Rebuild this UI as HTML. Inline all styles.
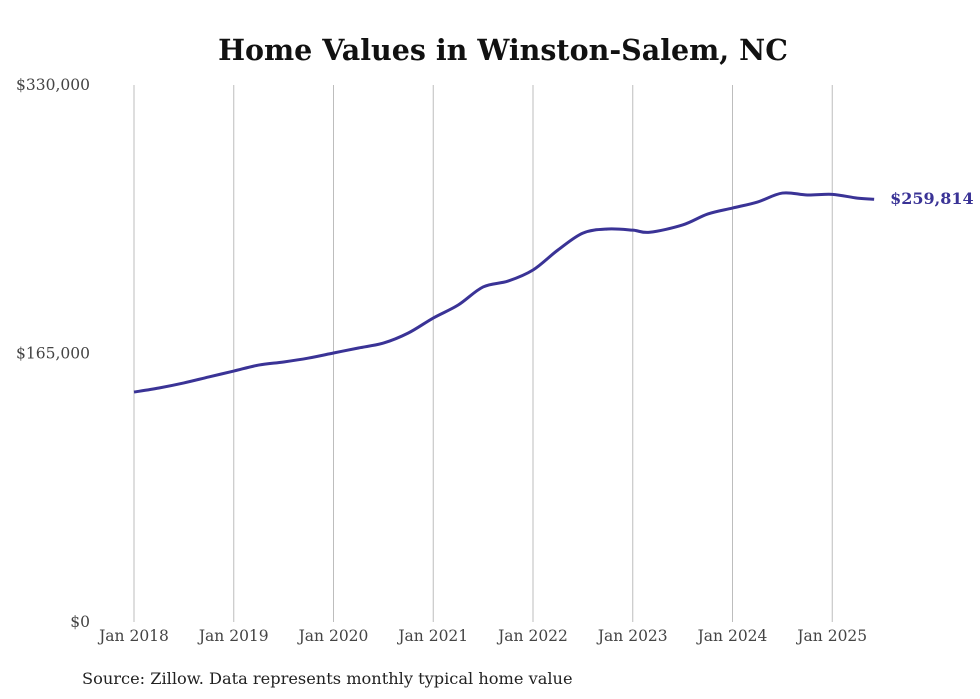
<!DOCTYPE html>
<html><head><meta charset="utf-8"><style>
body{margin:0;background:#fff;}
svg{display:block;font-family:"DejaVu Serif","Liberation Serif",serif;}
</style></head><body>
<svg id="chart" width="980" height="699">
<text x="503" y="60" text-anchor="middle" font-size="28.5" font-weight="bold" fill="#111">Home Values in Winston-Salem, NC</text>
<g id="grid"></g><g id="yaxis"></g><g id="xaxis"></g><g id="series"></g>
<text x="82" y="684" font-size="16.2" fill="#222">Source: Zillow. Data represents monthly typical home value</text>
</svg>
<script>
const years=[2018,2019,2020,2021,2022,2023,2024,2025];
const yTicks=[0,165000,330000];
const yTickLabels=["$0","$165,000","$330,000"];
const dates=[2018.0,2018.25,2018.5,2018.75,2019.0,2019.25,2019.5,2019.75,2020.0,2020.25,2020.5,2020.75,2021.0,2021.25,2021.5,2021.75,2022.0,2022.25,2022.5,2022.75,2023.0,2023.17,2023.5,2023.75,2024.0,2024.25,2024.5,2024.75,2025.0,2025.25,2025.42];
const values=[141300,143800,146900,150600,154200,157900,159800,162200,165300,168400,171400,177600,186800,194800,205900,209500,216300,228600,239000,241500,240800,239500,244000,250700,254400,258100,263600,262400,262800,260500,259814];
const NS="http://www.w3.org/2000/svg";
const x=d=>134+(d-2018)*99.75;
const y=v=>622-v/330000*537;
function mk(tag,attrs,parent){const e=document.createElementNS(NS,tag);for(const k in attrs)e.setAttribute(k,attrs[k]);parent.appendChild(e);return e;}
const grid=document.getElementById('grid'),xa=document.getElementById('xaxis'),ya=document.getElementById('yaxis'),se=document.getElementById('series');
years.forEach(yr=>{
 const l=mk('line',{x1:x(yr),x2:x(yr),y1:85,y2:622,stroke:'#bdbdbd','stroke-width':1},grid);
 
 
 const t=mk('text',{x:x(yr),y:641,'text-anchor':'middle','font-size':15.5,fill:'#444'},xa);
 t.textContent='Jan '+yr;
 
 
});
yTicks.forEach((v,i)=>{
 const t=mk('text',{x:90,y:y(v)+5,'text-anchor':'end','font-size':15.5,fill:'#444'},ya);
 t.textContent=yTickLabels[i];
 
 
});
const pts=dates.map((d,i)=>[x(d),y(values[i])]);
let p='M'+pts[0][0]+','+pts[0][1];
for(let i=0;i<pts.length-1;i++){
 const p0=pts[Math.max(0,i-1)],p1=pts[i],p2=pts[i+1],p3=pts[Math.min(pts.length-1,i+2)];
 const c1=[p1[0]+(p2[0]-p0[0])/6,p1[1]+(p2[1]-p0[1])/6],c2=[p2[0]-(p3[0]-p1[0])/6,p2[1]-(p3[1]-p1[1])/6];
 p+=' C'+c1+' '+c2+' '+p2;
}
const path=mk('path',{d:p,fill:'none',stroke:'#3a3396','stroke-width':3,'stroke-linejoin':'round'},se);


const last=pts[pts.length-1];
const lab=mk('text',{x:last[0]+16,y:last[1]+5,'font-size':16,'font-weight':'bold',fill:'#3a3396'},se);
lab.textContent='$'+values[values.length-1].toLocaleString('en-US');


</script>
</body></html>
